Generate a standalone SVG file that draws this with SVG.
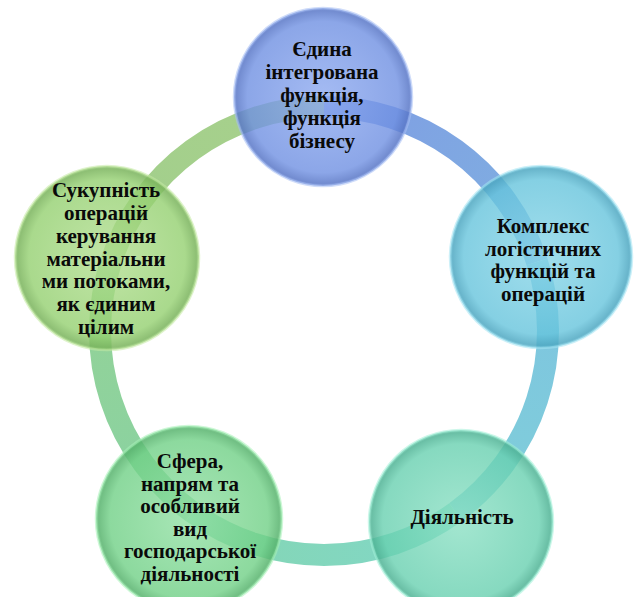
<svg xmlns="http://www.w3.org/2000/svg" width="634" height="597" viewBox="0 0 634 597">
<style>
.t{font-family:"Liberation Serif","Times New Roman",serif;font-weight:bold;font-size:21px;fill:#0a0a0a;text-anchor:middle}
.ring{fill:none;stroke-width:22;stroke-linecap:butt;stroke-opacity:0.88}
.node{stroke-width:2.5;stroke-opacity:0.55}
</style>
<defs>
<linearGradient id="s1" gradientUnits="userSpaceOnUse" x1="324" y1="107" x2="537" y2="262"><stop offset="0" stop-color="#6d8fe0"/><stop offset="1" stop-color="#6ea6dc"/></linearGradient>
<linearGradient id="s2" gradientUnits="userSpaceOnUse" x1="537" y1="262" x2="456" y2="512"><stop offset="0" stop-color="#6cbcdc"/><stop offset="1" stop-color="#6ec8d4"/></linearGradient>
<linearGradient id="s3" gradientUnits="userSpaceOnUse" x1="456" y1="512" x2="192" y2="512"><stop offset="0" stop-color="#70d2c0"/><stop offset="1" stop-color="#74d0a8"/></linearGradient>
<linearGradient id="s4" gradientUnits="userSpaceOnUse" x1="192" y1="512" x2="111" y2="262"><stop offset="0" stop-color="#78cc96"/><stop offset="1" stop-color="#86cc88"/></linearGradient>
<linearGradient id="s5" gradientUnits="userSpaceOnUse" x1="111" y1="262" x2="324" y2="107"><stop offset="0" stop-color="#94c87c"/><stop offset="1" stop-color="#9cca7c"/></linearGradient>
<radialGradient id="gTop"><stop offset="0" stop-color="#8eaaf0" stop-opacity="0.8"/><stop offset="0.85" stop-color="#6f90e2" stop-opacity="0.8"/><stop offset="0.97" stop-color="#5a78c8" stop-opacity="0.85"/><stop offset="1" stop-color="#6a88d6" stop-opacity="0.8"/></radialGradient>
<radialGradient id="gRight"><stop offset="0" stop-color="#8ad6e8" stop-opacity="0.8"/><stop offset="0.85" stop-color="#66c4dc" stop-opacity="0.8"/><stop offset="0.97" stop-color="#4ea8c2" stop-opacity="0.85"/><stop offset="1" stop-color="#64bcd4" stop-opacity="0.8"/></radialGradient>
<radialGradient id="gLeft"><stop offset="0" stop-color="#b2de90" stop-opacity="0.8"/><stop offset="0.85" stop-color="#94d070" stop-opacity="0.8"/><stop offset="0.97" stop-color="#7ab45c" stop-opacity="0.85"/><stop offset="1" stop-color="#90c870" stop-opacity="0.8"/></radialGradient>
<radialGradient id="gBL"><stop offset="0" stop-color="#92e0a4" stop-opacity="0.8"/><stop offset="0.85" stop-color="#70d086" stop-opacity="0.8"/><stop offset="0.97" stop-color="#58b46e" stop-opacity="0.85"/><stop offset="1" stop-color="#6cc882" stop-opacity="0.8"/></radialGradient>
<radialGradient id="gBR"><stop offset="0" stop-color="#8ce0c4" stop-opacity="0.8"/><stop offset="0.85" stop-color="#68d0b0" stop-opacity="0.8"/><stop offset="0.97" stop-color="#50b496" stop-opacity="0.85"/><stop offset="1" stop-color="#66c8aa" stop-opacity="0.8"/></radialGradient>
</defs>
<rect width="634" height="597" fill="#ffffff"/>
<g id="connectors">
<path class="ring" stroke="url(#s1)" d="M324 107 A224 224 0 0 1 537.0 261.8"/>
<path class="ring" stroke="url(#s2)" d="M537.0 261.8 A224 224 0 0 1 455.7 512.2"/>
<path class="ring" stroke="url(#s3)" d="M455.7 512.2 A224 224 0 0 1 192.3 512.2"/>
<path class="ring" stroke="url(#s4)" d="M192.3 512.2 A224 224 0 0 1 111.0 261.8"/>
<path class="ring" stroke="url(#s5)" d="M111.0 261.8 A224 224 0 0 1 324 107"/>
</g>
<g id="node-top">
<circle class="node" cx="323" cy="97" r="89" fill="url(#gTop)" stroke="#a8c0f4"/>
<text class="t"><tspan x="322" y="56">Єдина</tspan><tspan x="322" y="79">інтегрована</tspan><tspan x="322" y="102">функція,</tspan><tspan x="322" y="125">функція</tspan><tspan x="322" y="148">бізнесу</tspan></text>
</g>
<g id="node-right">
<circle class="node" cx="541" cy="257" r="91" fill="url(#gRight)" stroke="#a4e4f2"/>
<text class="t"><tspan x="543" y="233">Комплекс</tspan><tspan x="543" y="255.5">логістичних</tspan><tspan x="543" y="278">функцій та</tspan><tspan x="543" y="300.5">операцій</tspan></text>
</g>
<g id="node-bottom-right">
<circle class="node" cx="461" cy="522" r="92" fill="url(#gBR)" stroke="#a4f0d8"/>
<text class="t" x="462" y="524">Діяльність</text>
</g>
<g id="node-bottom-left">
<circle class="node" cx="189" cy="519" r="93" fill="url(#gBL)" stroke="#a8f0b8"/>
<text class="t"><tspan x="190" y="468">Сфера,</tspan><tspan x="190" y="490.5">напрям та</tspan><tspan x="190" y="513">особливий</tspan><tspan x="190" y="535.5">вид</tspan><tspan x="190" y="558">господарської</tspan><tspan x="190" y="580.5">діяльності</tspan></text>
</g>
<g id="node-left">
<circle class="node" cx="107" cy="258" r="92" fill="url(#gLeft)" stroke="#c4eaa4"/>
<text class="t"><tspan x="106" y="197">Сукупність</tspan><tspan x="106" y="220">операцій</tspan><tspan x="106" y="243">керування</tspan><tspan x="106" y="265.5">матеріальни</tspan><tspan x="106" y="288">ми потоками,</tspan><tspan x="106" y="311">як єдиним</tspan><tspan x="106" y="334">цілим</tspan></text>
</g>
</svg>
